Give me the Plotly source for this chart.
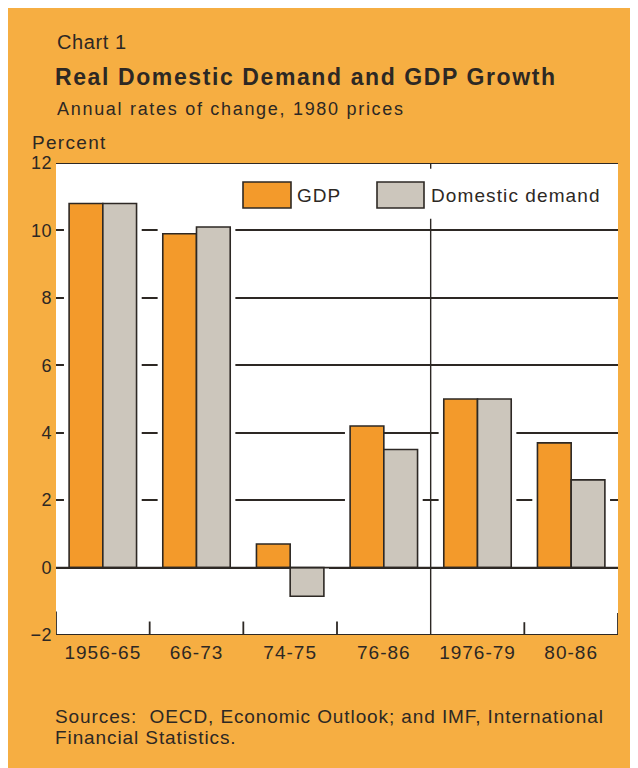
import plotly.graph_objects as go

# ---- data ----
categories = ["1956-65", "66-73", "74-75", "76-86", "1976-79", "80-86"]
gdp = [10.8, 9.9, 0.7, 4.2, 5.0, 3.7]
domestic_demand = [10.8, 10.1, -0.85, 3.5, 5.0, 2.6]
y_tick_values = [-2, 0, 2, 4, 6, 8, 10, 12]
y_tick_labels = ["\u22122", "0", "2", "4", "6", "8", "10", "12"]
series_names = ["GDP", "Domestic demand"]

# ---- style ----
W, H = 638, 768
OFF = 8                      # page body margin
SL, SR, ST, SB = 56, 618, 163, 635   # plot area in screen pixels
BG = "#F6AE42"
ORANGE = "#F39A2B"
GRAY = "#CCC6BC"
INK = "#2d2824"
FONT = "Liberation Sans"
BAR_W = 0.36
HALO_X = 0.055
HALO_Y = 0.15


def px(x):
    return (x - SL) / (SR - SL)


def py(y):
    return (SB - y) / (SB - ST)


def sp(text, ls=1.0):
    return f'<span style="letter-spacing:{ls}px">{text}</span>'


def halo(vals):
    return [v + HALO_Y if v >= 0 else v - HALO_Y for v in vals]


fig = go.Figure()
# white halos that interrupt the grid lines around bars
fig.add_trace(go.Bar(x=categories, y=halo(gdp), offset=-BAR_W - HALO_X, width=BAR_W + HALO_X,
                     marker=dict(color="white", line=dict(width=0)), hoverinfo="skip", showlegend=False))
fig.add_trace(go.Bar(x=categories, y=halo(domestic_demand), offset=0, width=BAR_W + HALO_X,
                     marker=dict(color="white", line=dict(width=0)), hoverinfo="skip", showlegend=False))
fig.add_trace(go.Bar(x=categories, y=gdp, name=series_names[0], offset=-BAR_W, width=BAR_W,
                     marker=dict(color=ORANGE, line=dict(color=INK, width=1.6)), showlegend=False))
fig.add_trace(go.Bar(x=categories, y=domestic_demand, name=series_names[1], offset=0, width=BAR_W,
                     marker=dict(color=GRAY, line=dict(color=INK, width=1.6)), showlegend=False))

shapes = []
line = dict(color=INK, width=1.8)
# frame lines
shapes.append(dict(type="line", xref="x", yref="y", x0=-0.5, x1=5.5, y0=12, y1=12, line=line))
shapes.append(dict(type="line", xref="x", yref="y", x0=-0.5, x1=5.5, y0=0, y1=0, line=line))
shapes.append(dict(type="line", xref="x", yref="y", x0=-0.5, x1=5.5, y0=-2, y1=-2, line=line))
# bottom category separator ticks
for xv, top in [(-0.5, -1.3), (0.5, -1.6), (1.5, -1.6), (2.5, -1.6), (4.5, -1.62), (5.5, -1.35)]:
    shapes.append(dict(type="line", xref="x", yref="y", x0=xv, x1=xv, y0=-2, y1=top, line=line))
# divider between the two period groups
shapes.append(dict(type="line", xref="x", yref="y", x0=3.5, x1=3.5, y0=-2, y1=10.35, line=dict(color=INK, width=1.4)))
shapes.append(dict(type="line", xref="x", yref="y", x0=3.5, x1=3.5, y0=12, y1=11.83, line=dict(color=INK, width=1.4)))
# legend boxes
shapes.append(dict(type="rect", xref="paper", yref="paper", x0=px(243), x1=px(291), y0=py(208), y1=py(182),
                   fillcolor=ORANGE, line=dict(color=INK, width=1.6)))
shapes.append(dict(type="rect", xref="paper", yref="paper", x0=px(377), x1=px(424), y0=py(208), y1=py(182),
                   fillcolor=GRAY, line=dict(color=INK, width=1.6)))

ann = []


def text(t, x, y, size, bold=False, ls=1.0, anchor="left"):
    s = sp(t, ls)
    if bold:
        s = "<b>" + s + "</b>"
    ann.append(dict(text=s, xref="paper", yref="paper", x=px(x), y=py(y), xanchor=anchor, yanchor="middle",
                    showarrow=False, font=dict(family=FONT, size=size, color=INK)))


text(series_names[0], 295, 195, 19, ls=1.0)
text(series_names[1], 429, 195, 19, ls=1.1)
text("Chart 1", 55, 42, 20, ls=0.6)
text("Real Domestic Demand and GDP Growth", 53, 77, 23, bold=True, ls=1.6)
text("Annual rates of change, 1980 prices", 55, 109, 18, ls=1.7)
text("Percent", 30, 143, 19, ls=1.3)
text("Sources:  OECD, Economic Outlook; and IMF, International", 53, 716, 19, ls=0.9)
text("Financial Statistics.", 53, 737, 19, ls=0.9)

fig.update_layout(
    width=W, height=H,
    margin=dict(l=SL - OFF, r=W - (SR - OFF), t=ST - OFF, b=H - (SB - OFF), pad=0),
    paper_bgcolor=BG, plot_bgcolor="white",
    barmode="overlay",
    showlegend=False,
    shapes=shapes,
    annotations=ann,
    font=dict(family=FONT, color=INK),
    xaxis=dict(type="category", range=[-0.5, 5.5], showgrid=False, zeroline=False, showline=False,
               ticks="", tickvals=categories, ticktext=[sp(c, 1.0) for c in categories],
               tickfont=dict(family=FONT, size=19, color=INK), ticklabelstandoff=4, fixedrange=True),
    yaxis=dict(range=[-2, 12], showgrid=True, gridcolor=INK, gridwidth=1.5, zeroline=False, showline=False,
               ticks="", tickvals=y_tick_values, ticktext=[sp(t, 0.5) for t in y_tick_labels],
               tickfont=dict(family=FONT, size=18, color=INK), ticklabelstandoff=3, fixedrange=True),
)

fig.write_html("out.html")
